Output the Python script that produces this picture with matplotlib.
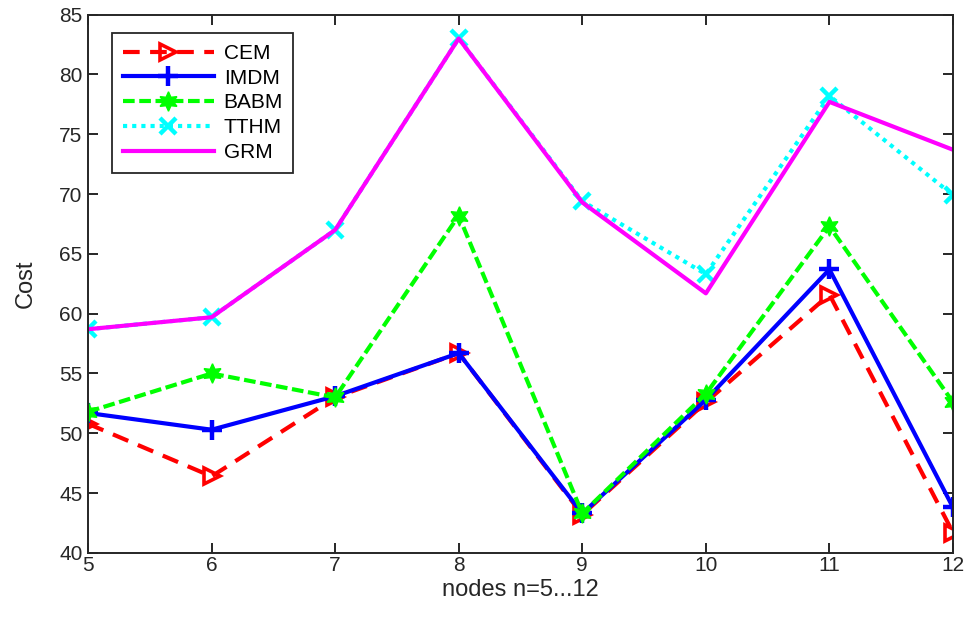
import matplotlib
matplotlib.use("Agg")
import matplotlib.pyplot as plt

plt.rcParams['font.family'] = ['Liberation Sans', 'DejaVu Sans']

nodes = [5, 6, 7, 8, 9, 10, 11, 12]
cem = [50.8, 46.4, 53.0, 56.7, 43.2, 52.6, 61.6, 41.7]
imdm = [51.7, 50.3, 53.1, 56.7, 43.3, 52.8, 63.7, 43.8]
babm = [51.8, 55.0, 53.0, 68.2, 43.3, 53.3, 67.3, 52.6]
tthm = [58.7, 59.7, 67.0, 83.0, 69.4, 63.3, 78.2, 69.9]
grm = [58.7, 59.7, 67.0, 83.0, 69.3, 61.7, 77.7, 73.7]

fig = plt.figure(figsize=(9.69, 6.22), dpi=100)
ax = fig.add_axes([0.0908, 0.111, 0.8927, 0.8656])

lw = 3.0
ax.plot(nodes, cem, color='red', ls=(0, (4, 2.5)), lw=lw, marker='>', ms=12,
        mfc='none', mec='red', mew=2.6, label='CEM')
ax.plot(nodes, imdm, color='blue', ls='-', lw=lw, marker='+', ms=15,
        mew=3.2, label='IMDM')
ax.plot(nodes, babm, color='#00ff00', ls=(0, (2.8, 1.1)), lw=lw,
        marker=(6, 1, 0), ms=14, mfc='#00ff00', mec='#00ff00', label='BABM')
ax.plot(nodes, tthm, color='cyan', ls=(0, (1, 1.2)), lw=lw, marker='x',
        ms=12, mew=3.2, label='TTHM')
ax.plot(nodes, grm, color='magenta', ls='-', lw=lw, label='GRM')

ax.set_xlim(5, 12)
ax.set_ylim(40, 85)
ax.set_xticks(nodes)
ax.set_yticks(range(40, 90, 5))
ax.tick_params(direction='in', top=True, right=True, length=7, width=1.4,
               labelsize=15, colors='#262626', pad=4)
ax.tick_params(axis='x', pad=2)
for s in ax.spines.values():
    s.set_linewidth(1.4)
    s.set_color('#262626')

ax.set_xlabel('nodes n=5...12', fontsize=17, color='#262626', labelpad=3)
ax.set_ylabel('Cost', fontsize=17, color='#262626', labelpad=16)

leg = ax.legend(loc='upper left', bbox_to_anchor=(0.028, 0.965), fontsize=15,
                handlelength=4.4, handletextpad=0.45, fancybox=False,
                framealpha=1, edgecolor='#262626', borderpad=0.5,
                labelspacing=0.28, borderaxespad=0)
leg.get_frame().set_linewidth(1.3)

fig.savefig('out.png', dpi=100)
